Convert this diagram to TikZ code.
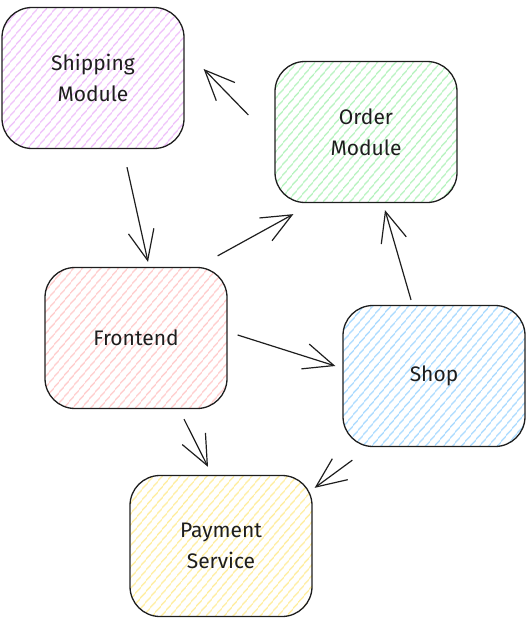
\documentclass[tikz,border=0pt]{standalone}
\usepackage{fontspec}
\setmainfont{Fira Sans}
\usetikzlibrary{calc,arrows.meta,patterns.meta}
\definecolor{ink}{HTML}{1E1E1E}
\definecolor{purplefill}{HTML}{EEBEFA}
\definecolor{greenfill}{HTML}{B2F2BB}
\definecolor{redfill}{HTML}{FFC9C9}
\definecolor{bluefill}{HTML}{A5D8FF}
\definecolor{yellowfill}{HTML}{FFEC99}

\begin{document}
\begin{tikzpicture}[x=1pt,y=-1pt,
  box/.style={draw=ink, line width=1.3pt, rounded corners=30pt, minimum width=182pt, minimum height=141pt,
    align=center, text=ink, font=\fontsize{21}{31}\selectfont,
    pattern={Lines[angle=50,distance=6.5pt,line width=1.3pt]}},
  link/.style={draw=ink, line width=1.2pt, -{Straight Barb[length=30pt,width=26pt,line width=1.2pt]}}]
\useasboundingbox (0,0) rectangle (531,626);

% Modules
\node[box, pattern color=purplefill] (shipping) at (93,78) {Shipping\\Module};
\node[box, pattern color=greenfill] (order) at (366,132) {Order\\Module};
\node[box, pattern color=redfill] (frontend) at (136,338) {Frontend};
\node[box, pattern color=bluefill] (shop) at (434,376) {Shop};
\node[box, pattern color=yellowfill] (payment) at (221,546) {Payment\\Service};

% Connectors
\draw[link] ($(order.west)+(-26,-17)$) -- ($(shipping.east)+(19,-9)$);
\draw[link] ($(shipping.south)+(34,18)$) -- ($(frontend.north)+(12,-5)$);
\draw[link] ($(frontend.north east)+(-10,-11)$) -- ($(order.south west)+(19,11)$);
\draw[link] ($(frontend.east)+(10,-3)$) -- ($(shop.west)+(-7,-10)$);
\draw[link] ($(shop.north)+(-23,-5)$) -- ($(order.south)+(19,7)$);
\draw[link] ($(frontend.south)+(48,10)$) -- ($(payment.north)+(-13,-8)$);
\draw[link] ($(shop.south west)+(10,13)$) -- ($(payment.north east)+(2,13)$);
\end{tikzpicture}
\end{document}
